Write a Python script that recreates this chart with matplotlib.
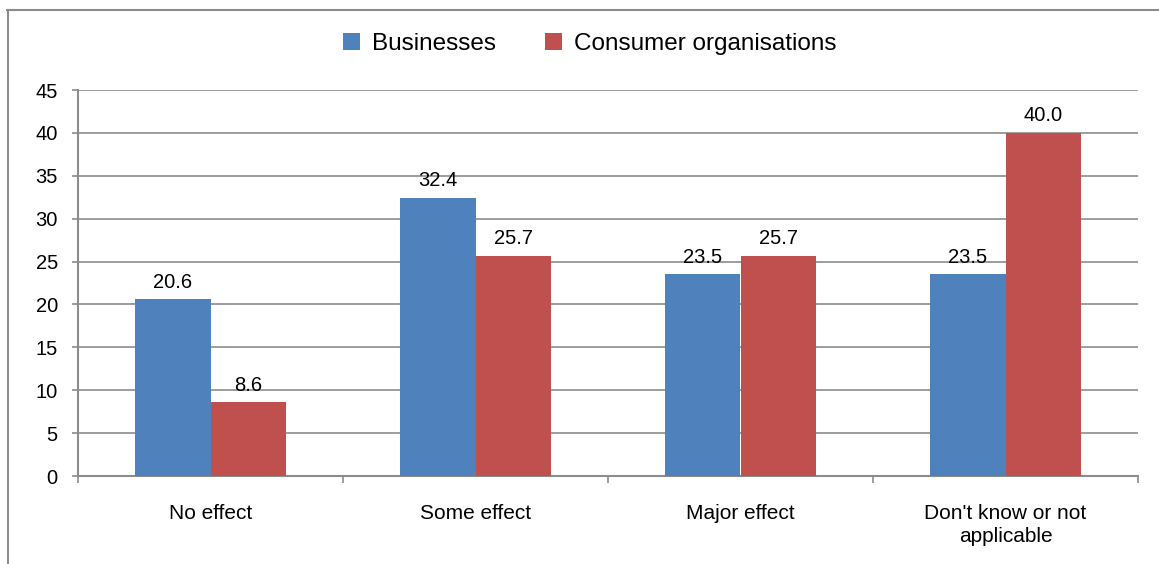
import matplotlib.pyplot as plt
import numpy as np
from matplotlib.lines import Line2D

plt.rcParams['font.family'] = ['Liberation Sans', 'DejaVu Sans']

categories = ['No effect', 'Some effect', 'Major effect', "Don't know or not\napplicable"]
businesses = [20.6, 32.4, 23.5, 23.5]
consumer = [8.6, 25.7, 25.7, 40.0]

blue = '#4F81BD'
red = '#C0504D'
grey = '#8C8C8C'

fig = plt.figure(figsize=(11.59, 5.64), dpi=100)
ax = fig.add_axes([78 / 1159, 1 - 476 / 564, (1138 - 78) / 1159, (476 - 90) / 564])

x = np.arange(len(categories))
w = 0.285
b1 = ax.bar(x - w / 2, businesses, w, color=blue, label='Businesses', zorder=3)
b2 = ax.bar(x + w / 2, consumer, w, color=red, label='Consumer organisations', zorder=3)

for bars, vals in ((b1, businesses), (b2, consumer)):
    for r, v in zip(bars, vals):
        ax.text(r.get_x() + r.get_width() / 2, v + 0.9, f'{v:.1f}',
                ha='center', va='bottom', fontsize=14.5)

ax.set_xlim(-0.5, len(categories) - 0.5)
ax.set_ylim(0, 45)
ax.set_yticks(np.arange(0, 46, 5))
ax.yaxis.grid(True, color=grey, linewidth=1.2, zorder=0)
ax.set_xticks(x)
ax.set_xticklabels(categories, fontsize=15, linespacing=1.3)
ax.set_xticks(np.arange(-0.5, len(categories), 1), minor=True)
ax.tick_params(axis='x', which='major', length=0, pad=20)
ax.tick_params(axis='x', which='minor', length=5, color=grey, width=1.2)
ax.tick_params(axis='y', length=4.5, color=grey, width=1.2, labelsize=14.5, pad=10)

for s in ['top', 'right']:
    ax.spines[s].set_visible(False)
for s in ['left', 'bottom']:
    ax.spines[s].set_color(grey)
    ax.spines[s].set_linewidth(1.5)

fig.legend(loc='center', bbox_to_anchor=(590 / 1159, 1 - 44 / 564), ncol=2,
           frameon=False, fontsize=17.5, handlelength=0.7, handleheight=0.7,
           handletextpad=0.5, columnspacing=2.0)

# outer chart frame
fig.add_artist(Line2D([7 / 1159, 1], [1 - 10 / 564, 1 - 10 / 564], color=grey, lw=1.5))
fig.add_artist(Line2D([8 / 1159, 8 / 1159], [0, 1 - 10 / 564], color=grey, lw=1.5))

fig.savefig('out.png', dpi=100)
